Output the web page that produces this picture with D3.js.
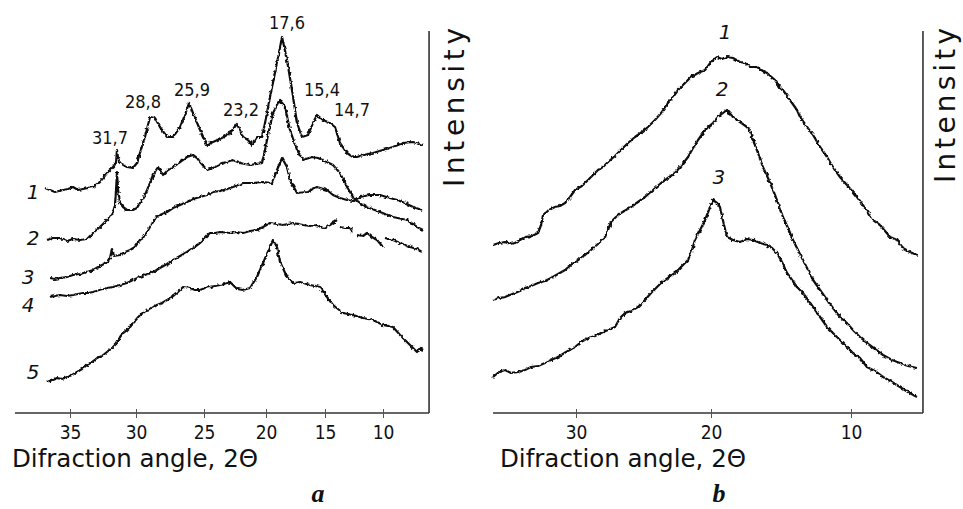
<!DOCTYPE html>
<html>
<head>
<meta charset="utf-8">
<script src="https://cdnjs.cloudflare.com/ajax/libs/d3/7.8.5/d3.min.js"></script>
<style>
  body { margin: 0; background: #fff; }
  text { fill: #111; }
</style>
</head>
<body>
<svg id="chart" width="963" height="509"></svg>
<script>
// DATA  (angle 2Θ in degrees, intensity in arbitrary units)

// panel a
const curveA1 = [[36.89,225],[36.52,223],[36.14,221],[35.53,223],[35.15,224],[34.77,226],[34.39,223],[34.02,224],[33.64,225],[33.26,226],[32.73,231],[32.20,240],[31.74,246],[31.52,250],[31.44,263],[31.36,255],[31.21,250],[30.68,246],[30.23,245],[29.93,250],[29.71,260],[29.34,276],[28.97,296],[28.60,295],[28.24,286],[27.72,276],[27.28,276],[26.76,286],[26.40,298],[26.10,310],[25.81,300],[25.29,283],[24.76,268],[24.27,271],[23.55,275],[22.90,280],[22.34,289],[21.85,276],[21.45,273],[21.13,268],[20.73,276],[20.32,276],[20.08,290],[19.66,316],[19.07,350],[18.64,376],[18.22,353],[17.80,323],[17.37,290],[16.95,276],[16.44,278],[16.02,290],[15.68,298],[15.17,293],[14.57,290],[14.14,286],[13.71,270],[13.10,260],[12.59,256],[12.24,256],[11.72,258],[10.86,260],[10.00,263],[9.14,266],[8.28,270],[7.41,271],[6.55,268]];
const curveA2 = [[36.74,173],[36.29,175],[35.76,175],[35.23,172],[34.77,174],[34.24,173],[33.71,174],[33.26,180],[32.73,186],[32.35,191],[31.97,196],[31.74,201],[31.59,208],[31.52,221],[31.44,241],[31.36,223],[31.21,210],[30.98,206],[30.68,203],[30.23,203],[29.93,205],[29.71,210],[29.34,218],[28.97,230],[28.75,238],[28.38,246],[28.01,238],[27.65,243],[27.28,246],[26.76,251],[26.25,256],[25.81,258],[25.51,255],[25.29,251],[24.76,243],[24.27,245],[23.47,250],[22.66,253],[22.10,250],[21.29,248],[20.32,250],[20.08,263],[19.83,278],[19.41,300],[18.81,313],[18.39,306],[17.97,283],[17.37,263],[16.86,253],[16.10,256],[15.59,255],[14.83,251],[14.31,248],[13.71,240],[13.10,226],[12.59,216],[11.98,210],[11.38,206],[10.26,201],[9.14,196],[7.93,193],[7.07,186],[6.55,183]];
const curveA3 = [[36.52,135],[36.14,134],[35.76,135],[35.23,136],[34.77,138],[34.24,139],[33.71,141],[33.26,143],[32.73,147],[32.27,150],[31.97,155],[31.82,164],[31.67,157],[31.21,158],[30.83,161],[30.45,163],[30.08,166],[29.71,173],[29.49,175],[29.19,181],[28.97,186],[28.75,191],[28.60,194],[28.46,197],[28.24,198],[27.72,201],[27.28,205],[26.76,208],[26.25,211],[25.81,214],[25.29,216],[24.76,218],[24.27,221],[23.71,222],[23.15,224],[22.66,226],[21.85,230],[21.05,230],[20.24,231],[19.49,230],[19.07,243],[18.64,255],[18.22,246],[17.97,233],[17.37,220],[16.53,221],[15.68,226],[14.83,223],[14.31,218],[13.71,215],[13.10,213],[12.59,212],[11.98,216],[11.12,218],[10.26,218],[9.40,215],[8.79,213],[8.10,210],[7.41,206],[6.64,203]];
const curveA4 = [[36.52,116],[36.14,117],[35.76,118],[35.23,117],[34.77,118],[34.39,119],[34.02,120],[33.64,120],[33.26,121],[32.73,123],[32.20,125],[31.74,126],[31.21,128],[30.68,130],[30.23,133],[29.71,136],[29.34,138],[28.97,140],[28.60,142],[28.24,145],[27.72,149],[27.28,153],[26.76,157],[26.25,161],[25.81,165],[25.29,170],[24.92,175],[24.52,180],[24.11,180],[23.71,181],[22.90,180],[22.34,181],[21.85,180],[21.29,182],[20.73,183],[20.24,186],[19.66,190],[19.07,189],[18.56,188],[17.71,190],[16.86,188],[16.27,187],[15.68,188],[15.17,185],[14.57,188],[13.97,193],null,[13.71,186],[13.28,185],[12.84,185],[12.59,181],null,[12.24,178],[11.72,177],[11.38,180],[10.95,176],[10.52,173],[10.00,166],null,[9.83,175],[9.14,173],[8.53,170],[7.67,166],[7.07,164],[6.64,161]];
const curveA5 = [[36.74,31],[36.36,33],[35.98,35],[35.61,34],[35.23,36],[34.85,38],[34.47,41],[34.09,44],[33.71,48],[33.33,51],[32.95,55],[32.58,57],[32.20,61],[31.82,65],[31.44,70],[31.21,76],[30.98,80],[30.68,83],[30.45,86],[30.08,92],[29.71,98],[29.19,103],[28.82,105],[28.46,108],[28.09,110],[27.72,113],[27.35,116],[26.99,120],[26.54,126],[26.03,125],[25.66,123],[25.29,123],[24.92,125],[24.52,126],[24.11,127],[23.71,128],[23.31,129],[22.90,131],[22.34,124],[21.85,123],[21.29,125],[20.73,136],[20.24,150],[19.66,166],[19.41,173],[19.07,166],[18.81,151],[18.22,136],[17.71,130],[17.12,131],[16.27,128],[15.42,126],[14.83,116],[14.31,108],[13.45,100],[12.59,98],[11.72,95],[10.86,93],[10.00,88],[9.14,86],[8.53,78],[7.93,71],[7.41,65],[7.07,61],[6.81,65],[6.55,63]];

// panel b
const curveB1 = [[36.15,168],[35.70,170],[35.26,171],[34.89,169],[34.52,170],[34.15,173],[33.78,176],[33.26,177],[32.81,180],[32.59,188],[32.44,198],[32.00,203],[31.56,206],[31.19,207],[30.81,210],[30.44,216],[30.07,223],[29.56,227],[29.11,233],[28.74,238],[28.37,243],[28.00,246],[27.63,251],[27.11,257],[26.67,263],[26.15,270],[25.63,276],[25.11,281],[24.67,286],[24.15,293],[23.70,300],[23.19,310],[22.81,316],[22.44,323],[21.93,330],[21.48,336],[20.96,340],[20.44,343],[20.00,351],[19.57,356],[19.21,354],[18.86,356],[18.43,355],[17.93,351],[17.57,350],[17.21,346],[16.71,346],[16.29,342],[16.00,340],[15.43,333],[15.07,325],[14.86,323],[14.36,313],[13.86,303],[13.64,296],[13.14,286],[12.71,278],[12.21,266],[11.71,256],[11.29,246],[10.79,236],[10.29,228],[9.86,221],[9.57,216],[9.00,205],[8.43,193],[7.93,188],[7.21,176],[6.71,173],[6.29,165],[5.79,161],[5.29,158]];
const curveB2 = [[36.15,113],[35.70,115],[35.26,116],[34.89,118],[34.52,120],[34.15,122],[33.78,125],[33.33,127],[32.81,130],[32.30,132],[31.85,135],[31.33,139],[30.81,143],[30.37,148],[29.85,153],[29.33,158],[28.89,163],[28.37,169],[27.85,176],[27.63,183],[27.41,191],[27.04,196],[26.67,200],[26.30,203],[25.93,206],[25.41,211],[24.89,216],[24.30,223],[23.70,230],[23.19,235],[22.67,240],[22.22,247],[21.70,256],[21.33,265],[20.96,273],[20.59,280],[20.22,286],[19.86,290],[19.50,296],[19.14,300],[18.86,303],[18.43,296],[17.93,291],[17.43,286],[17.21,281],[17.00,273],[16.64,260],[16.29,246],[15.93,235],[15.57,223],[15.21,210],[14.86,196],[14.50,185],[14.14,173],[13.79,163],[13.43,153],[13.07,143],[12.71,133],[12.21,123],[11.71,113],[11.29,105],[10.79,96],[10.29,90],[9.86,83],[9.36,76],[8.86,70],[8.29,64],[7.71,58],[7.07,53],[6.50,50],[5.93,47],[5.29,45]];
const curveB3 = [[36.15,36],[35.70,41],[35.26,43],[34.81,40],[34.30,41],[33.78,43],[33.33,46],[32.81,47],[32.30,50],[31.85,53],[31.33,56],[30.74,61],[30.07,66],[29.63,71],[29.11,75],[28.59,77],[28.15,80],[27.63,83],[27.11,86],[26.74,95],[26.37,100],[25.93,102],[25.41,106],[24.89,113],[24.44,120],[24.07,125],[23.70,130],[23.19,135],[22.67,140],[22.22,146],[21.70,153],[21.41,163],[21.19,173],[20.81,183],[20.44,193],[20.07,206],[19.86,213],[19.57,210],[19.36,206],[19.07,188],[18.86,176],[18.43,173],[17.93,171],[17.43,174],[17.00,173],[16.50,170],[16.00,168],[15.64,165],[15.29,160],[14.93,151],[14.57,140],[14.21,133],[13.86,126],[13.43,120],[13.07,113],[12.71,106],[12.21,96],[11.71,86],[11.29,80],[10.79,73],[10.29,66],[9.86,60],[9.36,55],[8.86,46],[8.29,42],[7.71,36],[7.07,31],[6.50,26],[5.93,21],[5.29,16]];

const TICKS_A = [35, 30, 25, 20, 15, 10];
const TICKS_B = [30, 20, 10];
const EXTENT_A = [39.17, 6.03];
const EXTENT_B = [36.15, 4.86];

const PEAK_LABELS = ['31,7', '28,8', '25,9', '23,2', '17,6', '15,4', '14,7'];
const PEAK_LABEL_POS = [[31.97,269],[29.49,305],[25.88,317],[22.02,297],[18.22,384],[15.25,317],[12.67,297]];

const CURVE_NAMES_A = ['1', '2', '3', '4', '5'];
const CURVE_NAME_POS_A = [[37.8,214],[37.8,168],[38.18,129],[38.18,101],[37.8,34]];
const CURVE_NAMES_B = ['1', '2', '3'];
const CURVE_NAME_POS_B = [[19.0,374],[19.21,317],[19.43,229]];

const X_TITLE = 'Difraction angle, 2Θ';
const Y_TITLE = 'Intensity';

// SCALES
const SVG = d3.select('#chart');
const AXIS_Y = 413;
const TOP_Y = 31;
const LABEL_FONT = '"DejaVu Sans Condensed", "DejaVu Sans", sans-serif';

const xA = d3.scaleLinear().domain(TICKS_A).range([70, 136, 204, 266, 325, 383]);
const xB = d3.scaleLinear().domain(TICKS_B).range([576, 711, 851]);
const yScale = d3.scaleLinear().domain([0, 383]).range([AXIS_Y, 30]);

// recorder trace look: slight roughness on the pen line
const defs = SVG.append('defs');
const rough = defs.append('filter')
  .attr('id', 'rough')
  .attr('x', '-5%').attr('y', '-5%')
  .attr('width', '110%').attr('height', '110%');
rough.append('feTurbulence')
  .attr('type', 'fractalNoise')
  .attr('baseFrequency', 0.3)
  .attr('numOctaves', 2)
  .attr('seed', 7)
  .attr('result', 'noise');
rough.append('feDisplacementMap')
  .attr('in', 'SourceGraphic')
  .attr('in2', 'noise')
  .attr('scale', 3.5)
  .attr('xChannelSelector', 'R')
  .attr('yChannelSelector', 'G');

function drawPanel(x, ticks, extent, curves) {
  const g = SVG.append('g');

  // curves
  const line = d3.line()
    .defined(d => d !== null)
    .x(d => x(d[0]))
    .y(d => yScale(d[1]));

  g.append('g')
    .attr('filter', 'url(#rough)')
    .selectAll('path.curve')
    .data(curves)
    .join('path')
    .attr('class', 'curve')
    .attr('d', line)
    .attr('fill', 'none')
    .attr('stroke', '#111')
    .attr('stroke-width', 2.2)
    .attr('stroke-linejoin', 'round');

  // axis frame
  g.append('line')
    .attr('x1', x(extent[0])).attr('x2', x(extent[1]))
    .attr('y1', AXIS_Y).attr('y2', AXIS_Y)
    .attr('stroke', '#333').attr('stroke-width', 1.6);
  g.append('line')
    .attr('x1', x(extent[1])).attr('x2', x(extent[1]))
    .attr('y1', TOP_Y).attr('y2', AXIS_Y)
    .attr('stroke', '#333').attr('stroke-width', 1.6);

  const axis = g.append('g')
    .attr('transform', `translate(0,${AXIS_Y})`)
    .call(d3.axisBottom(x).tickValues(ticks).tickSize(5).tickPadding(8));
  axis.select('.domain').remove();
  axis.selectAll('.tick line').attr('y1', -4).attr('stroke', '#555');
  axis.selectAll('.tick text')
    .attr('font-family', LABEL_FONT)
    .attr('font-size', 19)
    .attr('fill', '#111');

  return g;
}

const gA = drawPanel(xA, TICKS_A, EXTENT_A, [curveA1, curveA2, curveA3, curveA4, curveA5]);
const gB = drawPanel(xB, TICKS_B, EXTENT_B, [curveB1, curveB2, curveB3]);

// peak labels
gA.selectAll('text.peak')
  .data(PEAK_LABELS)
  .join('text')
  .attr('class', 'peak')
  .attr('x', (d, i) => xA(PEAK_LABEL_POS[i][0]))
  .attr('y', (d, i) => yScale(PEAK_LABEL_POS[i][1]))
  .attr('text-anchor', 'middle')
  .attr('font-family', LABEL_FONT)
  .attr('font-size', 18)
  .text(d => d);

// curve numbers
function curveNames(g, x, names, pos) {
  g.selectAll('text.num')
    .data(names)
    .join('text')
    .attr('class', 'num')
    .attr('x', (d, i) => x(pos[i][0]))
    .attr('y', (d, i) => yScale(pos[i][1]))
    .attr('text-anchor', 'middle')
    .attr('font-family', '"DejaVu Sans", sans-serif')
    .attr('font-style', 'italic')
    .attr('font-size', 20)
    .text(d => d);
}
curveNames(gA, xA, CURVE_NAMES_A, CURVE_NAME_POS_A);
curveNames(gB, xB, CURVE_NAMES_B, CURVE_NAME_POS_B);

// axis titles
[[12, 467], [500, 467]].forEach(p => {
  SVG.append('text')
    .attr('x', p[0]).attr('y', p[1])
    .attr('font-family', LABEL_FONT)
    .attr('font-size', 25)
    .attr('textLength', 246)
    .attr('lengthAdjust', 'spacingAndGlyphs')
    .text(X_TITLE);
});

[[464, 187, 159], [955, 183, 155]].forEach(p => {
  SVG.append('text')
    .attr('transform', `translate(${p[0]},${p[1]}) rotate(-90)`)
    .attr('font-family', '"DejaVu Sans", sans-serif')
    .attr('font-size', 28)
    .attr('textLength', p[2])
    .attr('lengthAdjust', 'spacing')
    .text(Y_TITLE);
});

// panel letters
[['a', 318], ['b', 719]].forEach(p => {
  SVG.append('text')
    .attr('x', p[1]).attr('y', 502)
    .attr('text-anchor', 'middle')
    .attr('font-family', '"Liberation Serif", serif')
    .attr('font-style', 'italic')
    .attr('font-weight', 'bold')
    .attr('font-size', 26)
    .text(p[0]);
});
</script>
</body>
</html>
